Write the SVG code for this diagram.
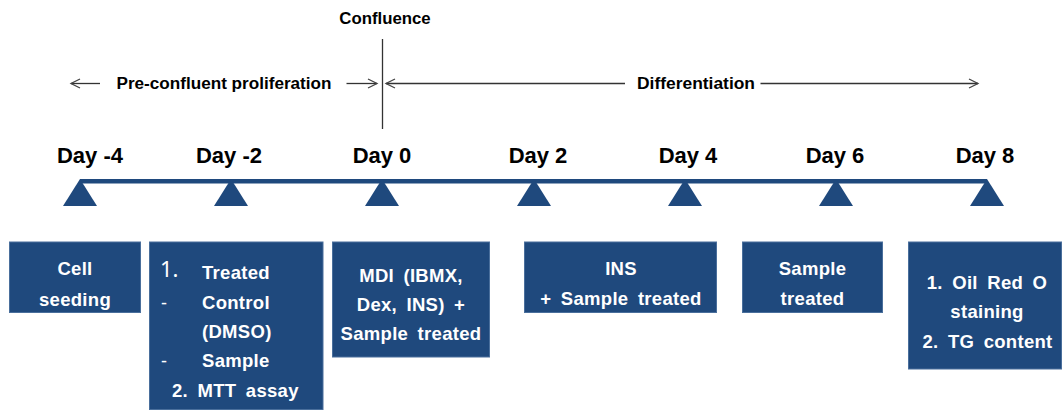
<svg xmlns="http://www.w3.org/2000/svg" width="1062" height="410" viewBox="0 0 1062 410">
  <style>
    .bg { fill: #ffffff; }
    .box { fill: #1f497d; stroke: #4a6f9c; stroke-width: 1; }
    .tri { fill: #1f497d; }
    .bar { stroke: #1f497d; stroke-width: 4.5; fill: none; }
    .day { font-family: "Liberation Sans", Arial, sans-serif; font-weight: bold; font-size: 22px; fill: #000000; text-anchor: middle; }
    .phase { font-family: "Liberation Sans", Arial, sans-serif; font-weight: bold; font-size: 16.8px; fill: #000000; }
    .bt { font-family: "Liberation Sans", Arial, sans-serif; font-weight: bold; font-size: 18.5px; fill: #ffffff; text-anchor: middle; letter-spacing: 0.3px; word-spacing: 4px; }
    .bl { font-family: "Liberation Sans", Arial, sans-serif; font-weight: bold; font-size: 18.5px; fill: #ffffff; letter-spacing: 0.3px; word-spacing: 4px; }
    .num { font-family: "Noto Sans", "DejaVu Sans", sans-serif; font-weight: normal; font-size: 22px; fill: #ffffff; }
    .dash { font-family: "Liberation Sans", Arial, sans-serif; font-weight: normal; font-size: 18px; fill: #ffffff; }
    .conn { stroke: #333333; stroke-width: 1.3; fill: none; }
  </style>
  <defs>
    <marker id="arr" markerUnits="userSpaceOnUse" markerWidth="12" markerHeight="12" viewBox="0 0 12 12" refX="10" refY="6" orient="auto-start-reverse">
      <path d="M1,1.5 L10,6 L1,10.5" fill="none" stroke="#444444" stroke-width="1.3"/>
    </marker>
  </defs>
  <rect class="bg" x="0" y="0" width="1062" height="410"/>

  <g id="connectors">
    <line class="conn" x1="382.5" y1="39" x2="382.5" y2="129"/>
    <line class="conn" x1="100" y1="83.5" x2="71" y2="83.5" marker-end="url(#arr)"/>
    <line class="conn" x1="346.5" y1="83.5" x2="377" y2="83.5" marker-end="url(#arr)"/>
    <line class="conn" x1="625" y1="83.5" x2="386" y2="83.5" marker-end="url(#arr)"/>
    <line class="conn" x1="760.5" y1="83.5" x2="978" y2="83.5" marker-end="url(#arr)"/>
  </g>

  <g id="phase-labels">
    <text id="confluence" class="phase" x="385" y="24" text-anchor="middle" font-size="16.3">Confluence</text>
    <text id="preconfluent" class="phase" x="116.5" y="89" textLength="215" lengthAdjust="spacingAndGlyphs">Pre-confluent proliferation</text>
    <text id="differentiation" class="phase" x="637" y="89" textLength="118" lengthAdjust="spacingAndGlyphs">Differentiation</text>
  </g>

  <g id="timeline">
    <line class="bar" x1="80" y1="181.3" x2="987" y2="181.3"/>
  </g>

  <g id="day-m4">
    <text class="day" x="90" y="163">Day -4</text>
    <polygon class="tri" points="80,179 97,206 63,206"/>
  </g>
  <g id="day-m2">
    <text class="day" x="229" y="163">Day -2</text>
    <polygon class="tri" points="231,179 248,206 214,206"/>
  </g>
  <g id="day-0">
    <text class="day" x="382" y="163">Day 0</text>
    <polygon class="tri" points="382,179 399,206 365,206"/>
  </g>
  <g id="day-2">
    <text class="day" x="538" y="163">Day 2</text>
    <polygon class="tri" points="534,179 551,206 517,206"/>
  </g>
  <g id="day-4">
    <text class="day" x="688" y="163">Day 4</text>
    <polygon class="tri" points="685,179 702,206 668,206"/>
  </g>
  <g id="day-6">
    <text class="day" x="835" y="163">Day 6</text>
    <polygon class="tri" points="836,179 853,206 819,206"/>
  </g>
  <g id="day-8">
    <text class="day" x="985" y="163">Day 8</text>
    <polygon class="tri" points="987,179 1004,206 970,206"/>
  </g>

  <g id="box-seeding">
    <rect class="box" x="9.5" y="242" width="131" height="70.5"/>
    <text class="bt" x="75" y="275">Cell</text>
    <text class="bt" x="75" y="305.5">seeding</text>
  </g>

  <g id="box-mtt">
    <rect class="box" x="149.5" y="242" width="173.5" height="167.5"/>
    <text class="num" x="160" y="277">1.</text>
    <text class="bl" x="202" y="278.5">Treated</text>
    <text class="dash" x="161" y="309">-</text>
    <text class="bl" x="202" y="309">Control</text>
    <text class="bl" x="202" y="337.5">(DMSO)</text>
    <text class="dash" x="161" y="367">-</text>
    <text class="bl" x="202" y="367">Sample</text>
    <text class="bl" x="172" y="397">2. MTT assay</text>
  </g>

  <g id="box-mdi">
    <rect class="box" x="332.5" y="242" width="157" height="115"/>
    <text class="bt" x="411" y="281.5">MDI (IBMX,</text>
    <text class="bt" x="411" y="311">Dex, INS) +</text>
    <text class="bt" x="411" y="340">Sample treated</text>
  </g>

  <g id="box-ins">
    <rect class="box" x="524.5" y="242" width="192" height="70.5"/>
    <text class="bt" x="621" y="275">INS</text>
    <text class="bt" x="621" y="304.5">+ Sample treated</text>
  </g>

  <g id="box-sample">
    <rect class="box" x="742.5" y="242" width="140" height="70.5"/>
    <text class="bt" x="812.5" y="275">Sample</text>
    <text class="bt" x="812.5" y="304.5">treated</text>
  </g>

  <g id="box-oilred">
    <rect class="box" x="908.5" y="242" width="153" height="127"/>
    <text class="bt" x="987" y="288.5">1. Oil Red O</text>
    <text class="bt" x="987" y="317.5">staining</text>
    <text class="bt" x="987.5" y="348">2. TG content</text>
  </g>
</svg>
